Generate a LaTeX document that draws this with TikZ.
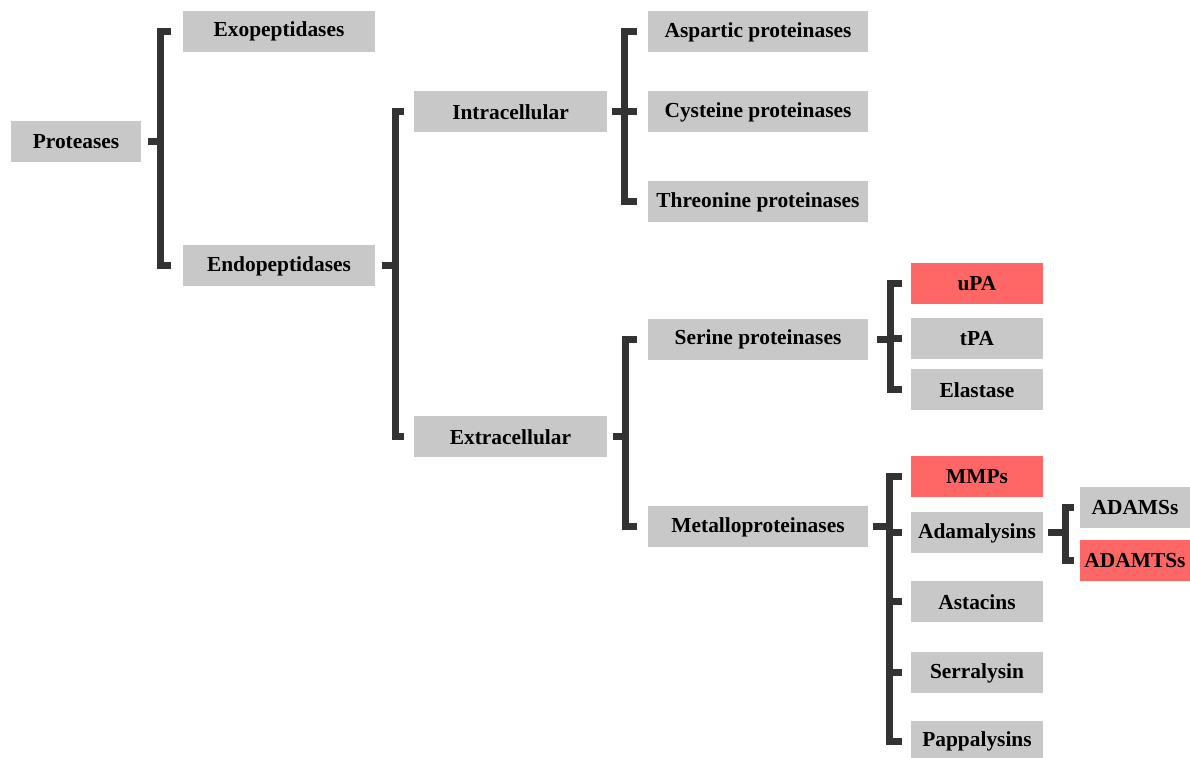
\documentclass[tikz,border=0pt]{standalone}
\usepackage{fontspec}
\setmainfont{Liberation Serif}
\usepackage{tikz}
\usetikzlibrary{calc}
\definecolor{protgray}{RGB}{200,200,200}
\definecolor{protred}{RGB}{255,102,102}
\definecolor{protdark}{RGB}{51,51,51}
\tikzset{
  cls/.style={fill=protgray, inner sep=0pt, minimum height=20.5pt,
    font=\fontsize{10.7}{12}\selectfont\bfseries, text=black},
  hit/.style={cls, fill=protred},
  brk/.style={protdark, line width=3.5pt, line join=miter}
}

\begin{document}
\begin{tikzpicture}[x=0.5pt, y=-0.5pt]
  \useasboundingbox (0,0) rectangle (1190,758);

  % === LEVEL 0 / 1 ===
  \node[cls, minimum width=65pt] (prot) at (76,142) {Proteases};
  \node[cls, minimum width=96pt] (exo) at (279,31.5) {Exopeptidases};
  \node[cls, minimum width=96pt] (endo) at (279,266) {Endopeptidases};

  % === LEVEL 2 ===
  \node[cls, minimum width=96.5pt] (intra) at (510.5,112) {Intracellular};
  \node[cls, minimum width=96.5pt] (extra) at (510.5,437) {Extracellular};

  % === LEVEL 3 ===
  \node[cls, minimum width=110pt] (asp) at (758,32) {Aspartic proteinases};
  \node[cls, minimum width=110pt] (cys) at (758,112) {Cysteine proteinases};
  \node[cls, minimum width=110pt] (thr) at (758,202) {Threonine proteinases};
  \node[cls, minimum width=110pt] (ser) at (758,339.5) {Serine proteinases};
  \node[cls, minimum width=110pt] (metal) at (758,527) {Metalloproteinases};

  % === LEVEL 4 ===
  \node[hit, minimum width=66pt] (upa) at (977,283.5) {uPA};
  \node[cls, minimum width=66pt] (tpa) at (977,339) {tPA};
  \node[cls, minimum width=66pt] (elast) at (977,390) {Elastase};
  \node[hit, minimum width=66pt] (mmp) at (977,477) {MMPs};
  \node[cls, minimum width=66pt] (adam) at (977,533) {Adamalysins};
  \node[cls, minimum width=66pt] (ast) at (977,602) {Astacins};
  \node[cls, minimum width=66pt] (serra) at (977,673) {Serralysin};
  \node[cls, minimum width=66pt] (pappa) at (977,741.5) {Pappalysins};

  % === LEVEL 5 ===
  \node[cls, minimum width=55pt] (adams) at (1135,508) {ADAMSs};
  \node[hit, minimum width=55pt] (adamts) at (1135,561) {ADAMTSs};

  % spines of the brackets
  \coordinate (v1) at (160,0);
  \coordinate (v2) at (395,0);
  \coordinate (v3) at (624,0);
  \coordinate (v4) at (625,0);
  \coordinate (v5) at (890,0);
  \coordinate (v6) at (889,0);
  \coordinate (v7) at (1065,0);

  % Proteases
  \draw[brk] ([xshift=3.5pt]prot.east) -- (prot.east -| v1);
  \draw[brk] ([xshift=-6pt]exo.west) -- (exo.west -| v1)
    -- (endo.west -| v1) -- ([xshift=-6pt]endo.west);
  % Endopeptidases
  \draw[brk] ([xshift=3.5pt]endo.east) -- (endo.east -| v2);
  \draw[brk] ([xshift=-5pt]intra.west) -- (intra.west -| v2)
    -- (extra.west -| v2) -- ([xshift=-5pt]extra.west);
  % Intracellular
  \draw[brk] ([xshift=2.5pt]intra.east) -- (intra.east -| v3);
  \draw[brk] ([xshift=-5.5pt]asp.west) -- (asp.west -| v3)
    -- (thr.west -| v3) -- ([xshift=-5.5pt]thr.west);
  \draw[brk] (cys.west -| v3) -- ([xshift=-5.5pt]cys.west);
  % Extracellular
  \draw[brk] ([xshift=3pt]extra.east) -- (extra.east -| v4);
  \draw[brk] ([xshift=-5.5pt]ser.west) -- (ser.west -| v4)
    -- (metal.west -| v4) -- ([xshift=-5.5pt]metal.west);
  % Serine proteinases
  \draw[brk] ([xshift=4.5pt]ser.east) -- (ser.east -| v5);
  \draw[brk] ([xshift=-4.5pt]upa.west) -- (upa.west -| v5)
    -- (elast.west -| v5) -- ([xshift=-4.5pt]elast.west);
  \draw[brk] (tpa.west -| v5) -- ([xshift=-4.5pt]tpa.west);
  % Metalloproteinases
  \draw[brk] ([xshift=2.5pt]metal.east) -- (metal.east -| v6);
  \draw[brk] ([xshift=-4.5pt]mmp.west) -- (mmp.west -| v6)
    -- (pappa.west -| v6) -- ([xshift=-4.5pt]pappa.west);
  \foreach \n in {adam,ast,serra}
    \draw[brk] (\n.west -| v6) -- ([xshift=-4.5pt]\n.west);
  % Adamalysins
  \draw[brk] ([xshift=2.5pt]adam.east) -- (adam.east -| v7);
  \draw[brk] ([xshift=-3pt]adams.west) -- (adams.west -| v7)
    -- (adamts.west -| v7) -- ([xshift=-3pt]adamts.west);

\end{tikzpicture}
\end{document}
